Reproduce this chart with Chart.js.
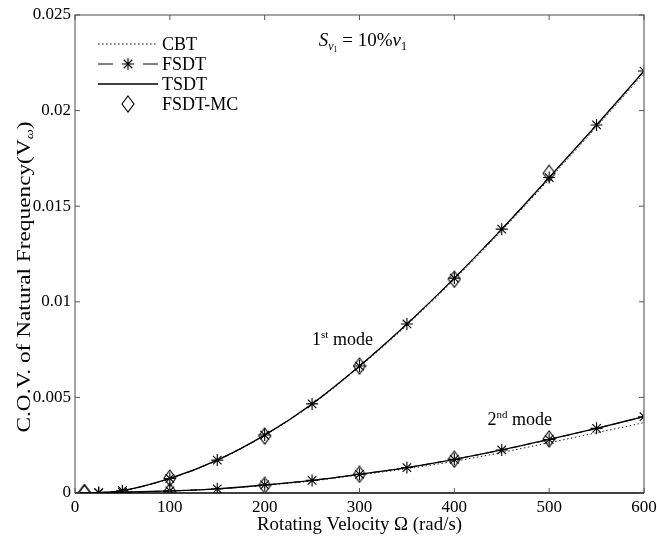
<!DOCTYPE html>
<html>
<head>
<meta charset="utf-8">
<script src="https://cdn.jsdelivr.net/npm/chart.js@4.4.0/dist/chart.umd.min.js"></script>
<style>
  html, body { margin: 0; padding: 0; background: #fff; }
  #wrap { width: 657px; height: 536px; }
</style>
</head>
<body>
<div id="wrap"><canvas id="covChart" width="657" height="536"></canvas></div>
<script>
// rotating velocity (rad/s)
const speeds = [0, 25, 50, 100, 150, 200, 250, 300, 350, 400, 450, 500, 550, 600];
const starSpeeds = [25, 50, 100, 150, 200, 250, 300, 350, 400, 450, 500, 550, 600];
const mcSpeeds = [10, 100, 200, 300, 400, 500];

// 1st mode
const cbtMode1 = [0, 0.00002, 0.00012, 0.00075, 0.00171, 0.00301, 0.00463, 0.0066, 0.00878, 0.01117, 0.01372, 0.0164, 0.01915, 0.02195];
const tsdtMode1 = [0, 0.00002, 0.00012, 0.00076, 0.00172, 0.00303, 0.00466, 0.00664, 0.00884, 0.01124, 0.0138, 0.0165, 0.01925, 0.02207];
const fsdtMode1 = [0.00002, 0.00012, 0.00076, 0.00172, 0.00303, 0.00466, 0.00664, 0.00884, 0.01124, 0.0138, 0.0165, 0.01925, 0.02207];
const mcMode1 = [0.00001, 0.00078, 0.00298, 0.00664, 0.01118, 0.01672];

// 2nd mode
const cbtMode2 = [0, 0.00001, 0.00004, 0.0001, 0.00021, 0.0004, 0.00063, 0.00095, 0.00127, 0.00166, 0.00212, 0.00263, 0.00315, 0.00368];
const tsdtMode2 = [0, 0.00001, 0.00004, 0.00011, 0.00022, 0.00042, 0.00066, 0.00098, 0.00133, 0.00176, 0.00225, 0.0028, 0.00338, 0.004];
const fsdtMode2 = [0.00001, 0.00004, 0.00011, 0.00022, 0.00042, 0.00066, 0.00098, 0.00133, 0.00176, 0.00225, 0.0028, 0.00338, 0.00399];
const mcMode2 = [0.00001, 0.00008, 0.0004, 0.00098, 0.00177, 0.00283];

const xTicks = [0, 100, 200, 300, 400, 500, 600];
const yTicks = [0, 0.005, 0.01, 0.015, 0.02, 0.025];
const yTickLabels = ['0', '0.005', '0.01', '0.015', '0.02', '0.025'];

const legendLabels = ['CBT', 'FSDT', 'TSDT', 'FSDT-MC'];
const xTitle = 'Rotating Velocity \u03A9 (rad/s)';
const yTitle = 'C.O.V. of Natural Frequency(V';

const FONT = '"Liberation Serif", "DejaVu Serif", serif';
const axisGray = '#858585';

function pts(xs, ys) {
    return xs.map((x, i) => ({ x: x, y: ys[i] }));
}

// taller-than-wide hollow diamond, like the matlab marker
function makeDiamond() {
    const c = document.createElement('canvas');
    c.width = 14;
    c.height = 18;
    const g = c.getContext('2d');
    g.strokeStyle = '#000';
    g.lineWidth = 1.1;
    g.beginPath();
    g.moveTo(7, 1);
    g.lineTo(13, 9);
    g.lineTo(7, 17);
    g.lineTo(1, 9);
    g.closePath();
    g.stroke();
    return c;
}
const diamond = makeDiamond();

const cbtStyle = { borderColor: '#222', borderWidth: 1, borderDash: [1.5, 2.5], pointRadius: 0, fill: false, cubicInterpolationMode: 'monotone' };
const fsdtStyle = { borderColor: '#000', borderWidth: 1, borderDash: [8, 5], pointStyle: 'star', pointRadius: 6, pointBorderColor: '#000', pointBorderWidth: 1.1, fill: false, cubicInterpolationMode: 'monotone' };
const tsdtStyle = { borderColor: '#000', borderWidth: 1.3, pointRadius: 0, fill: false, cubicInterpolationMode: 'monotone' };
const mcStyle = { showLine: false, pointStyle: diamond, pointRadius: 7, borderColor: '#000' };

const datasets = [
    Object.assign({ label: 'CBT', data: pts(speeds, cbtMode1), order: 4 }, cbtStyle),
    Object.assign({ label: 'CBT', data: pts(speeds, cbtMode2), order: 4 }, cbtStyle),
    Object.assign({ label: 'FSDT', data: pts(starSpeeds, fsdtMode1), order: 1 }, fsdtStyle),
    Object.assign({ label: 'FSDT', data: pts(starSpeeds, fsdtMode2), order: 1 }, fsdtStyle),
    Object.assign({ label: 'TSDT', data: pts(speeds, tsdtMode1), order: 2 }, tsdtStyle),
    Object.assign({ label: 'TSDT', data: pts(speeds, tsdtMode2), order: 2 }, tsdtStyle),
    Object.assign({ label: 'FSDT-MC', data: pts(mcSpeeds, mcMode1), order: 3 }, mcStyle),
    Object.assign({ label: 'FSDT-MC', data: pts(mcSpeeds, mcMode2), order: 3 }, mcStyle),
];

// draws text pieces in a row; each piece: [text, size, dy, italic]
function drawPieces(ctx, x, y, pieces) {
    let cx = x;
    pieces.forEach(p => {
        ctx.font = (p[3] ? 'italic ' : '') + p[1] + 'px ' + FONT;
        ctx.fillText(p[0], cx, y + p[2]);
        cx += ctx.measureText(p[0]).width;
    });
}

function piecesWidth(ctx, pieces) {
    let w = 0;
    pieces.forEach(p => {
        ctx.font = (p[3] ? 'italic ' : '') + p[1] + 'px ' + FONT;
        w += ctx.measureText(p[0]).width;
    });
    return w;
}

// stretch a run of text along its direction so it spans the wanted width
function drawStretched(ctx, cx, cy, pieces, wanted) {
    const w = piecesWidth(ctx, pieces);
    ctx.save();
    ctx.translate(cx, cy);
    ctx.scale(wanted / w, 1);
    drawPieces(ctx, -w / 2, 0, pieces);
    ctx.restore();
}

const decorPlugin = {
    id: 'decor',
    afterDraw(chart) {
        const ctx = chart.ctx;
        const a = chart.chartArea;
        const xs = chart.scales.x;
        const ys = chart.scales.y;
        ctx.save();

        // box
        ctx.lineWidth = 1.5;
        ctx.strokeStyle = axisGray;
        ctx.beginPath();
        ctx.moveTo(a.left, a.bottom);
        ctx.lineTo(a.left, a.top);
        ctx.lineTo(a.right, a.top);
        ctx.lineTo(a.right, a.bottom);
        ctx.stroke();
        ctx.strokeStyle = '#000';
        ctx.beginPath();
        ctx.moveTo(a.left, a.bottom);
        ctx.lineTo(a.right, a.bottom);
        ctx.stroke();

        // inward ticks
        ctx.lineWidth = 1;
        ctx.strokeStyle = '#555';
        ctx.beginPath();
        xTicks.forEach(v => {
            const px = xs.getPixelForValue(v);
            ctx.moveTo(px, a.bottom); ctx.lineTo(px, a.bottom - 5);
            ctx.moveTo(px, a.top); ctx.lineTo(px, a.top + 5);
        });
        yTicks.forEach(v => {
            const py = ys.getPixelForValue(v);
            ctx.moveTo(a.left, py); ctx.lineTo(a.left + 5, py);
            ctx.moveTo(a.right, py); ctx.lineTo(a.right - 5, py);
        });
        ctx.stroke();

        ctx.fillStyle = '#000';
        ctx.textBaseline = 'alphabetic';
        ctx.textAlign = 'left';

        // axis titles
        drawStretched(ctx, (a.left + a.right) / 2, 530, [[xTitle, 18, 0]], 205);

        ctx.save();
        ctx.translate(30, 277);
        ctx.rotate(-Math.PI / 2);
        drawStretched(ctx, 0, 0, [[yTitle, 18, 0], ['\u03C9', 11, 3, true], [')', 18, 0]], 311);
        ctx.restore();

        // annotations
        drawPieces(ctx, xs.getPixelForValue(257), ys.getPixelForValue(0.02338), [
            ['S', 19, 0, true], ['v', 12, 4, true], ['1', 8, 6], [' = 10%', 19, 0], ['v', 19, 0, true], ['1', 12, 4]
        ]);
        drawPieces(ctx, xs.getPixelForValue(250), ys.getPixelForValue(0.00775), [
            ['1', 18, 0], ['st', 11, -7], [' mode', 18, 0]
        ]);
        drawPieces(ctx, xs.getPixelForValue(435), ys.getPixelForValue(0.00358), [
            ['2', 18, 0], ['nd', 11, -7], [' mode', 18, 0]
        ]);

        // legend
        const lx0 = a.left + 23, lx1 = a.left + 83, tx = a.left + 87;
        const rows = [a.top + 29, a.top + 49, a.top + 69, a.top + 89];
        ctx.strokeStyle = '#000';
        ctx.lineWidth = 1;
        ctx.setLineDash([1.5, 2.5]);
        ctx.beginPath(); ctx.moveTo(lx0, rows[0]); ctx.lineTo(lx1, rows[0]); ctx.stroke();
        ctx.setLineDash([15, 30]);
        ctx.beginPath(); ctx.moveTo(lx0, rows[1]); ctx.lineTo(lx1, rows[1]); ctx.stroke();
        ctx.setLineDash([]);
        const mx = (lx0 + lx1) / 2;
        ctx.lineWidth = 1.1;
        ctx.beginPath();
        for (let k = 0; k < 4; k++) {
            const ang = k * Math.PI / 4;
            ctx.moveTo(mx - 6 * Math.cos(ang), rows[1] - 6 * Math.sin(ang));
            ctx.lineTo(mx + 6 * Math.cos(ang), rows[1] + 6 * Math.sin(ang));
        }
        ctx.stroke();
        ctx.lineWidth = 1.3;
        ctx.beginPath(); ctx.moveTo(lx0, rows[2]); ctx.lineTo(lx1, rows[2]); ctx.stroke();
        ctx.drawImage(diamond, mx - 7, rows[3] - 9);

        ctx.font = '18px ' + FONT;
        ctx.textBaseline = 'middle';
        legendLabels.forEach((t, i) => ctx.fillText(t, tx, rows[i] + 1));

        ctx.restore();
    }
};

new Chart(document.getElementById('covChart'), {
    type: 'line',
    data: { datasets: datasets },
    options: {
        responsive: false,
        animation: false,
        layout: { autoPadding: false, padding: { left: 0, right: 13, top: 15, bottom: 0 } },
        plugins: { legend: { display: false }, tooltip: { enabled: false } },
        scales: {
            x: {
                type: 'linear',
                min: 0,
                max: 600,
                grid: { display: false, drawTicks: false },
                border: { display: false },
                afterBuildTicks: scale => { scale.ticks = xTicks.map(v => ({ value: v })); },
                afterFit: scale => {
                    scale.height = 43;
                    scale.paddingLeft = 0;
                    scale.paddingRight = 0;
                },
                ticks: { color: '#000', padding: 4, font: { family: FONT, size: 17 } },
            },
            y: {
                type: 'linear',
                min: 0,
                max: 0.025,
                grid: { display: false, drawTicks: false },
                border: { display: false },
                afterBuildTicks: scale => { scale.ticks = yTicks.map(v => ({ value: v })); },
                afterFit: scale => {
                    scale.width = 75;
                    scale.paddingTop = 0;
                    scale.paddingBottom = 0;
                },
                ticks: {
                    color: '#000',
                    padding: 4,
                    font: { family: FONT, size: 17 },
                    callback: (value, idx) => yTickLabels[idx],
                },
            },
        },
    },
    plugins: [decorPlugin],
});
</script>
</body>
</html>
